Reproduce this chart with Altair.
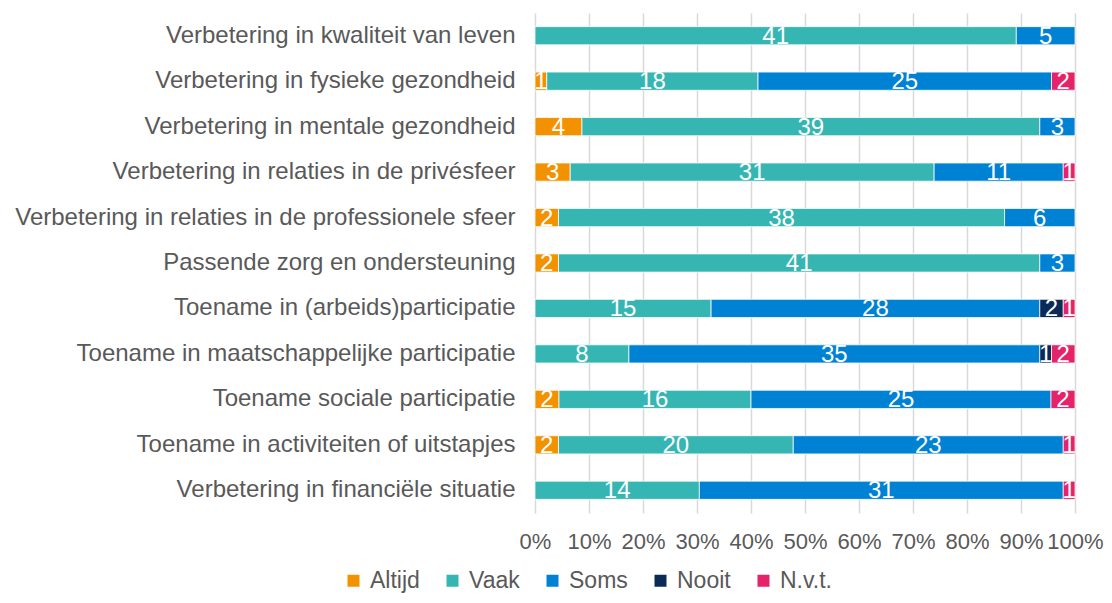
import altair as alt
import pandas as pd

categories = [
    "Verbetering in kwaliteit van leven",
    "Verbetering in fysieke gezondheid",
    "Verbetering in mentale gezondheid",
    "Verbetering in relaties in de privésfeer",
    "Verbetering in relaties in de professionele sfeer",
    "Passende zorg en ondersteuning",
    "Toename in (arbeids)participatie",
    "Toename in maatschappelijke participatie",
    "Toename sociale participatie",
    "Toename in activiteiten of uitstapjes",
    "Verbetering in financiële situatie",
]
series = ["Altijd", "Vaak", "Soms", "Nooit", "N.v.t."]
altijd = [0, 1, 4, 3, 2, 2, 0, 0, 2, 2, 0]
vaak = [41, 18, 39, 31, 38, 41, 15, 8, 16, 20, 14]
soms = [5, 25, 3, 11, 6, 3, 28, 35, 25, 23, 31]
nooit = [0, 0, 0, 0, 0, 0, 2, 1, 0, 0, 0]
nvt = [0, 2, 0, 1, 0, 0, 1, 2, 2, 1, 1]
colors = ["#F39200", "#36B6B3", "#0082D4", "#0B2A55", "#E5236B"]

rows = []
for ci, c in enumerate(categories):
    for si, (s, vals) in enumerate(zip(series, [altijd, vaak, soms, nooit, nvt])):
        if vals[ci] > 0:
            rows.append({"cat": c, "series": s, "order": si, "value": vals[ci]})
df = pd.DataFrame(rows)

FONT = "Liberation Sans"

base = alt.Chart(df).transform_stack(
    stack="value", groupby=["cat"], as_=["x0", "x1"], offset="normalize",
    sort=[alt.SortField("order", order="ascending")]
).transform_calculate(mid="(datum.x0 + datum.x1) / 2")

y_enc = alt.Y("cat:N", sort=categories, title=None,
              scale=alt.Scale(paddingInner=0.6, paddingOuter=0.3),
              axis=alt.Axis(ticks=False, domain=False, labelPadding=20,
                            labelFontSize=24, labelColor="#595959", labelFont=FONT,
                            labelLimit=700))

bars = base.mark_bar(stroke="white", strokeWidth=0.75).encode(
    x=alt.X("x0:Q", title=None, scale=alt.Scale(domain=[0, 1], nice=False),
            axis=alt.Axis(format=".0%", values=[i / 10 for i in range(11)],
                          labelFontSize=22, labelColor="#595959", labelFont=FONT,
                          labelFlush=False, labelOverlap=False, labelPadding=18,
                          ticks=False, domain=False, grid=True,
                          gridColor="#D9D9D9", gridWidth=1.5)),
    x2="x1:Q",
    y=y_enc,
    color=alt.Color("series:N", sort=series,
                    scale=alt.Scale(domain=series, range=colors),
                    legend=alt.Legend(title=None, orient="none", direction="horizontal",
                                      legendX=-193, legendY=556,
                                      symbolType="square", symbolSize=144,
                                      symbolStrokeWidth=0, labelFontSize=23,
                                      labelFont=FONT, labelColor="#595959",
                                      labelOffset=5, columnPadding=21)),
)

labels = base.mark_text(color="white", fontSize=24, font=FONT,
                        align="center", baseline="middle", dy=1).encode(
    x=alt.X("mid:Q"),
    y=alt.Y("cat:N", sort=categories),
    text=alt.Text("value:Q"),
)

chart = (bars + labels).properties(
    width=540, height=500,
    autosize=alt.AutoSizeParams(type="none"),
    padding={"left": 527, "top": 5, "right": 29, "bottom": 82},
).configure_view(stroke=None)

chart.save("out.html", embed_options={"renderer": "svg", "actions": False})
